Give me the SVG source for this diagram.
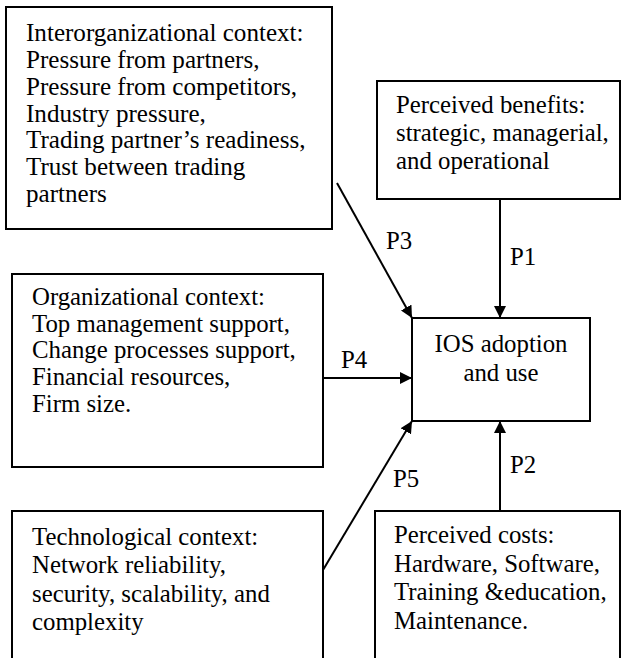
<svg xmlns="http://www.w3.org/2000/svg" width="622" height="658" viewBox="0 0 622 658" font-family="'Liberation Serif', 'Times New Roman', Times, serif" font-size="24.8">
<defs>
<style>
rect{fill:#fff;stroke:#000;stroke-width:2}
text{font-family:'Liberation Serif','Times New Roman',Times,serif;font-size:24.8px;fill:#000}
#inter text{font-size:25.1px}
.c line{stroke:#000;stroke-width:2}
</style>
<marker id="ah" viewBox="0 0 10 10" refX="10" refY="5" markerWidth="12" markerHeight="12" markerUnits="userSpaceOnUse" orient="auto">
<path d="M0,0 L10,5 L0,10 Z" fill="#000"/>
</marker>
</defs>
<rect x="0" y="0" width="622" height="658" style="stroke:none"/>
<g id="inter">
<rect x="6" y="7" width="326" height="222"/>
<text x="26" y="41">Interorganizational context:</text>
<text x="26" y="68">Pressure from partners,</text>
<text x="26" y="95">Pressure from competitors,</text>
<text x="26" y="122">Industry pressure,</text>
<text x="26" y="148">Trading partner’s readiness,</text>
<text x="26" y="175">Trust between trading</text>
<text x="26" y="202">partners</text>
</g>
<g id="benefits">
<rect x="377" y="81" width="243" height="118"/>
<text x="396" y="113">Perceived benefits:</text>
<text x="396" y="141">strategic, managerial,</text>
<text x="396" y="169">and operational</text>
</g>
<g id="ios">
<rect x="412" y="318" width="178" height="103"/>
<text x="501" y="352" text-anchor="middle">IOS adoption</text>
<text x="501" y="381" text-anchor="middle">and use</text>
</g>
<g id="org">
<rect x="12" y="274" width="311" height="193"/>
<text x="32" y="305">Organizational context:</text>
<text x="32" y="332">Top management support,</text>
<text x="32" y="358">Change processes support,</text>
<text x="32" y="385">Financial resources,</text>
<text x="32" y="412">Firm size.</text>
</g>
<g id="tech">
<rect x="12" y="511" width="311" height="160"/>
<text x="32" y="545">Technological context:</text>
<text x="32" y="573">Network reliability,</text>
<text x="32" y="602">security, scalability, and</text>
<text x="32" y="630">complexity</text>
</g>
<g id="costs">
<rect x="375" y="511" width="245" height="160"/>
<text x="394" y="543">Perceived costs:</text>
<text x="394" y="572">Hardware, Software,</text>
<text x="394" y="600">Training &amp;education,</text>
<text x="394" y="629">Maintenance.</text>
</g>
<g id="connectors" class="c">
<line x1="500" y1="199" x2="500" y2="318" marker-end="url(#ah)"/>
<line x1="500" y1="511" x2="500" y2="421" marker-end="url(#ah)"/>
<line x1="337" y1="183" x2="412" y2="318" marker-end="url(#ah)"/>
<line x1="323" y1="378" x2="412" y2="378" marker-end="url(#ah)"/>
<line x1="323" y1="570" x2="412" y2="421" marker-end="url(#ah)"/>
<text x="510" y="265">P1</text>
<text x="510" y="473">P2</text>
<text x="386" y="249">P3</text>
<text x="341" y="368">P4</text>
<text x="393" y="487">P5</text>
</g>
</svg>
